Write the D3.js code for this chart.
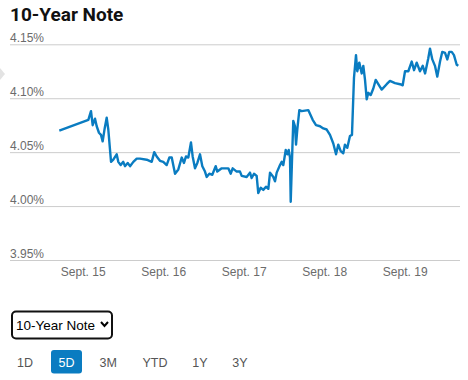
<!DOCTYPE html>
<html>
<head>
<meta charset="utf-8">
<script src="https://cdn.jsdelivr.net/npm/d3@7/dist/d3.min.js"></script>
<style>
  html, body { margin: 0; padding: 0; background: #fff; }
  svg { display: block; }
</style>
</head>
<body>
<svg id="chart" width="468" height="380"></svg>
<script>
// ---- Data (day-of-September as fractional days, yield in %) ----
const times = [
  14.709,15.070,15.103,15.124,15.153,15.174,15.202,15.227,15.248,15.273,15.298,15.318,15.352,15.380,15.422,15.442,15.472,15.504,15.525,15.559,15.588,15.629,15.671,15.712,15.795,15.857,15.889,15.919,15.960,
  16.001,16.043,16.076,16.106,16.147,16.188,16.230,16.258,16.283,16.312,16.345,16.366,16.395,16.424,16.457,16.486,16.519,16.540,16.573,16.610,16.652,16.672,16.727,16.809,16.839,16.863,16.913,16.954,16.975,
  17.037,17.078,17.099,17.128,17.161,17.181,17.211,17.243,17.277,17.306,17.327,17.368,17.389,17.410,17.451,17.472,17.492,17.522,17.542,17.559,17.575,17.584,17.604,17.616,17.637,17.650,17.666,17.691,17.720,17.802,17.857,17.898,17.948,17.989,
  18.031,18.072,18.113,18.147,18.175,18.205,18.237,18.258,18.287,18.320,18.345,18.370,18.395,18.411,18.436,18.466,18.486,18.507,18.528,18.548,18.578,18.610,18.640,18.672,18.714,18.776,18.817,18.880,18.942,18.975,
  19.004,19.045,19.087,19.116,19.149,19.190,19.224,19.253,19.293,19.314,19.343,19.376,19.405,19.439,19.467,19.501,19.529,19.554,19.584,19.612,19.646,19.666
];
const yields = [
  4.070,4.080,4.088,4.075,4.081,4.074,4.068,4.066,4.060,4.072,4.082,4.071,4.041,4.043,4.048,4.041,4.038,4.041,4.037,4.040,4.037,4.041,4.044,4.044,4.043,4.041,4.050,4.046,4.042,
  4.041,4.038,4.045,4.045,4.030,4.034,4.045,4.040,4.046,4.045,4.059,4.046,4.035,4.040,4.048,4.037,4.032,4.027,4.030,4.029,4.037,4.032,4.035,4.035,4.030,4.035,4.032,4.032,4.028,
  4.027,4.031,4.026,4.030,4.028,4.012,4.017,4.015,4.018,4.016,4.031,4.027,4.023,4.031,4.038,4.041,4.038,4.052,4.048,4.052,4.045,4.004,4.052,4.079,4.074,4.057,4.071,4.089,4.088,4.089,4.080,4.075,4.074,4.072,
  4.071,4.066,4.058,4.048,4.057,4.051,4.049,4.057,4.054,4.065,4.066,4.119,4.140,4.125,4.133,4.123,4.130,4.117,4.099,4.105,4.103,4.109,4.117,4.113,4.108,4.113,4.116,4.114,4.113,4.112,
  4.125,4.125,4.134,4.126,4.133,4.125,4.130,4.123,4.137,4.146,4.136,4.130,4.120,4.134,4.143,4.142,4.136,4.143,4.143,4.140,4.131,4.130
];
const xTickDays = [15, 16, 17, 18, 19];
const xTickLabels = ["Sept. 15", "Sept. 16", "Sept. 17", "Sept. 18", "Sept. 19"];
const yTicks = [3.95, 4.00, 4.05, 4.10, 4.15];
const yTickLabels = ["3.95%", "4.00%", "4.05%", "4.10%", "4.15%"];
const title = "10-Year Note";
const selectLabel = "10-Year Note";
const rangeButtons = ["1D", "5D", "3M", "YTD", "1Y", "3Y"];
const activeButton = "5D";

const BLUE = "#0a7cc1";
const svg = d3.select("#chart");

// Title
svg.append("text")
  .attr("x", 10).attr("y", 21)
  .attr("font-family", "Roboto, 'Liberation Sans', Arial, sans-serif")
  .attr("font-weight", 700).attr("font-size", 19)
  .attr("fill", "#111")
  .text(title);

// faint carousel arrow at left edge
svg.append("path")
  .attr("d", "M0,68 L5,74 L0,80 Z")
  .attr("fill", "#e3e3e3");

// Scales
const x = d3.scaleLinear().domain([15, 19]).range([82.7, 404.7]);
const y = d3.scaleLinear().domain([3.95, 4.15]).range([260, 44.3]);

// Y grid + labels
const yAxis = d3.axisRight(y)
  .tickValues(yTicks)
  .tickSize(450)
  .tickFormat((d, i) => yTickLabels[i]);
const gy = svg.append("g").attr("transform", "translate(10,0)").call(yAxis);
gy.select(".domain").remove();
gy.selectAll(".tick line").attr("stroke", "#cccccc").attr("stroke-width", 1);
gy.selectAll(".tick text")
  .attr("x", 0).attr("dy", "-3")
  .attr("text-anchor", "start")
  .attr("font-family", "'Liberation Sans', Arial, sans-serif")
  .attr("font-size", 12)
  .attr("fill", "#6b6b6b");

// X labels
const xAxis = d3.axisBottom(x)
  .tickValues(xTickDays)
  .tickSize(0)
  .tickFormat((d, i) => xTickLabels[i]);
const gx = svg.append("g").attr("transform", "translate(0,260)").call(xAxis);
gx.select(".domain").remove();
gx.selectAll(".tick text")
  .attr("y", 15.5).attr("dy", 0)
  .attr("font-family", "'Liberation Sans', Arial, sans-serif")
  .attr("font-size", 12)
  .attr("fill", "#6b6b6b");

// Line
const pts = times.map((t, i) => [t, yields[i]]);
const line = d3.line().x(d => x(d[0])).y(d => y(d[1]));
svg.append("path")
  .datum(pts)
  .attr("d", line)
  .attr("fill", "none")
  .attr("stroke", BLUE)
  .attr("stroke-width", 2.4)
  .attr("stroke-linejoin", "round");

// Select box
const sel = svg.append("g");
sel.append("rect")
  .attr("x", 12).attr("y", 311.5).attr("width", 100).attr("height", 27)
  .attr("rx", 4).attr("fill", "#fff")
  .attr("stroke", "#111").attr("stroke-width", 2);
sel.append("text")
  .attr("x", 16).attr("y", 329.5)
  .attr("font-family", "'Liberation Sans', Arial, sans-serif")
  .attr("font-size", 13.5).attr("fill", "#000")
  .text(selectLabel);
sel.append("path")
  .attr("d", "M101,322 L104.5,326 L108,322")
  .attr("fill", "none").attr("stroke", "#000").attr("stroke-width", 2);

// Range buttons
const btnCenters = [25, 66.5, 108.3, 155, 200, 240];
const btns = svg.append("g");
rangeButtons.forEach((b, i) => {
  const cx = btnCenters[i];
  if (b === activeButton) {
    btns.append("rect")
      .attr("x", cx - 15.5).attr("y", 350).attr("width", 31).attr("height", 23.5)
      .attr("rx", 3).attr("fill", BLUE);
  }
  btns.append("text")
    .attr("x", cx).attr("y", 366.5)
    .attr("text-anchor", "middle")
    .attr("font-family", "'Liberation Sans', Arial, sans-serif")
    .attr("font-size", 12.5)
    .attr("fill", b === activeButton ? "#fff" : "#555")
    .text(b);
});
</script>
</body>
</html>
